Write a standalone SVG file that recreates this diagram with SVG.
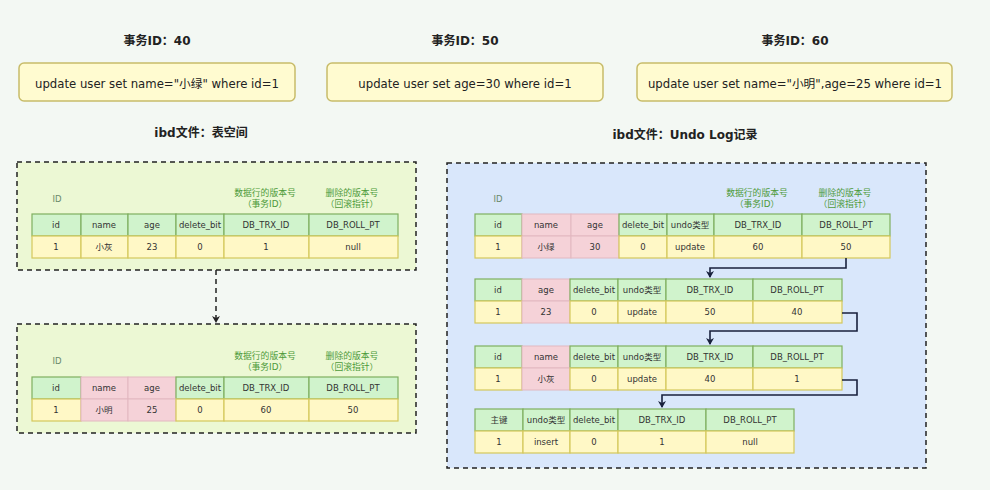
<svg xmlns="http://www.w3.org/2000/svg" width="990" height="490" viewBox="0 0 990 490">
<style>
.t{font-family:"DejaVu Sans","Noto Sans CJK SC",sans-serif;fill:#222;text-anchor:middle;dominant-baseline:central}
.title{font-size:12px;font-weight:bold}
.sql{font-size:11.7px}
.c{font-size:8.5px;fill:#333}
.lbl{font-size:8.8px;fill:#4d9a3a}
.idl{font-size:8.5px;fill:#6a8a6a}
.h{fill:#d0f3cc;stroke:#7fb05f;stroke-width:1.2}
.d{fill:#fff8c6;stroke:#d4c85c;stroke-width:1.2}
.p{fill:#f5d2d8;stroke:#e2b8c0;stroke-width:1}
.sqlbox{fill:#fffbd0;stroke:#c8bc6a;stroke-width:1.5}
.dash{stroke:#222;stroke-width:1.5;stroke-dasharray:5 4}
.conn{fill:none;stroke:#18213d;stroke-width:1.6}
</style>
<defs>
<marker id="ah" markerWidth="8" markerHeight="8" refX="6" refY="4" orient="auto" markerUnits="userSpaceOnUse">
<path d="M0,0 L7,4 L0,8 L2,4 Z" fill="#18213d"/>
</marker>
<marker id="ah2" markerWidth="8" markerHeight="8" refX="6" refY="4" orient="auto" markerUnits="userSpaceOnUse">
<path d="M0,0 L7,4 L0,8 L2,4 Z" fill="#222"/>
</marker>
</defs>
<rect width="990" height="490" fill="#f3f8f3"/>

<g id="tx40">
<text class="t title" x="157" y="41">事务ID：40</text>
<rect class="sqlbox" x="19" y="63" width="276" height="38" rx="5"/>
<text class="t sql" x="157" y="84">update user set name="小绿" where id=1</text>
</g>
<g id="tx50">
<text class="t title" x="465" y="41">事务ID：50</text>
<rect class="sqlbox" x="327" y="63" width="276" height="38" rx="5"/>
<text class="t sql" x="465" y="84">update user set age=30 where id=1</text>
</g>
<g id="tx60">
<text class="t title" x="795" y="41">事务ID：60</text>
<rect class="sqlbox" x="637" y="63" width="315" height="38" rx="5"/>
<text class="t sql" x="795" y="84">update user set name="小明",age=25 where id=1</text>
</g>

<text class="t title" x="201" y="133">ibd文件：表空间</text>
<text class="t title" x="685" y="135">ibd文件：Undo Log记录</text>

<g id="table-space-1">
<rect x="17" y="162" width="399" height="108" fill="#ecf8d4" class="dash"/>
<text class="t idl" x="57" y="199">ID</text>
<text class="t lbl" x="265" y="193">数据行的版本号</text>
<text class="t lbl" x="265" y="204">（事务ID）</text>
<text class="t lbl" x="352" y="193">删除的版本号</text>
<text class="t lbl" x="352" y="204">（回滚指针）</text>
<rect class="h" x="32" y="214" width="49" height="22"/><rect class="h" x="81" y="214" width="47" height="22"/><rect class="h" x="128" y="214" width="48" height="22"/><rect class="h" x="176" y="214" width="48" height="22"/><rect class="h" x="224" y="214" width="85" height="22"/><rect class="h" x="309" y="214" width="89" height="22"/>
<rect class="d" x="32" y="236" width="49" height="22"/><rect class="d" x="81" y="236" width="47" height="22"/><rect class="d" x="128" y="236" width="48" height="22"/><rect class="d" x="176" y="236" width="48" height="22"/><rect class="d" x="224" y="236" width="85" height="22"/><rect class="d" x="309" y="236" width="89" height="22"/>
<text class="t c" x="56" y="225">id</text><text class="t c" x="104" y="225">name</text><text class="t c" x="152" y="225">age</text><text class="t c" x="200" y="225">delete_bit</text><text class="t c" x="266" y="225">DB_TRX_ID</text><text class="t c" x="353" y="225">DB_ROLL_PT</text>
<text class="t c" x="56" y="247">1</text><text class="t c" x="104" y="247">小灰</text><text class="t c" x="152" y="247">23</text><text class="t c" x="200" y="247">0</text><text class="t c" x="266" y="247">1</text><text class="t c" x="353" y="247">null</text>
</g>

<g id="table-space-2">
<rect x="17" y="324" width="399" height="109" fill="#ecf8d4" class="dash"/>
<text class="t idl" x="57" y="361">ID</text>
<text class="t lbl" x="265" y="356">数据行的版本号</text>
<text class="t lbl" x="265" y="367">（事务ID）</text>
<text class="t lbl" x="352" y="356">删除的版本号</text>
<text class="t lbl" x="352" y="367">（回滚指针）</text>
<rect class="h" x="32" y="377" width="49" height="22"/><rect class="p" x="81" y="377" width="47" height="22"/><rect class="p" x="128" y="377" width="48" height="22"/><rect class="h" x="176" y="377" width="48" height="22"/><rect class="h" x="224" y="377" width="85" height="22"/><rect class="h" x="309" y="377" width="89" height="22"/>
<rect class="d" x="32" y="399" width="49" height="22"/><rect class="p" x="81" y="399" width="47" height="22"/><rect class="p" x="128" y="399" width="48" height="22"/><rect class="d" x="176" y="399" width="48" height="22"/><rect class="d" x="224" y="399" width="85" height="22"/><rect class="d" x="309" y="399" width="89" height="22"/>
<text class="t c" x="56" y="388">id</text><text class="t c" x="104" y="388">name</text><text class="t c" x="152" y="388">age</text><text class="t c" x="200" y="388">delete_bit</text><text class="t c" x="266" y="388">DB_TRX_ID</text><text class="t c" x="353" y="388">DB_ROLL_PT</text>
<text class="t c" x="56" y="410">1</text><text class="t c" x="104" y="410">小明</text><text class="t c" x="152" y="410">25</text><text class="t c" x="200" y="410">0</text><text class="t c" x="266" y="410">60</text><text class="t c" x="353" y="410">50</text>
</g>

<g id="undo-log">
<rect x="447" y="163" width="479" height="305" fill="#d9e7fb" class="dash"/>
<text class="t idl" x="498" y="199">ID</text>
<text class="t lbl" x="757" y="193">数据行的版本号</text>
<text class="t lbl" x="757" y="204">（事务ID）</text>
<text class="t lbl" x="845" y="193">删除的版本号</text>
<text class="t lbl" x="845" y="204">（回滚指针）</text>
</g>

<g id="undo-1">
<rect class="h" x="475" y="214" width="47" height="22"/><rect class="p" x="522" y="214" width="49" height="22"/><rect class="p" x="571" y="214" width="48" height="22"/><rect class="h" x="619" y="214" width="48" height="22"/><rect class="h" x="667" y="214" width="47" height="22"/><rect class="h" x="714" y="214" width="88" height="22"/><rect class="h" x="802" y="214" width="88" height="22"/>
<rect class="d" x="475" y="236" width="47" height="22"/><rect class="p" x="522" y="236" width="49" height="22"/><rect class="p" x="571" y="236" width="48" height="22"/><rect class="d" x="619" y="236" width="48" height="22"/><rect class="d" x="667" y="236" width="47" height="22"/><rect class="d" x="714" y="236" width="88" height="22"/><rect class="d" x="802" y="236" width="88" height="22"/>
<text class="t c" x="498" y="225">id</text><text class="t c" x="546" y="225">name</text><text class="t c" x="595" y="225">age</text><text class="t c" x="643" y="225">delete_bit</text><text class="t c" x="690" y="225">undo类型</text><text class="t c" x="758" y="225">DB_TRX_ID</text><text class="t c" x="846" y="225">DB_ROLL_PT</text>
<text class="t c" x="498" y="247">1</text><text class="t c" x="546" y="247">小绿</text><text class="t c" x="595" y="247">30</text><text class="t c" x="643" y="247">0</text><text class="t c" x="690" y="247">update</text><text class="t c" x="758" y="247">60</text><text class="t c" x="846" y="247">50</text>
</g>

<g id="undo-2">
<rect class="h" x="475" y="279" width="47" height="22"/><rect class="p" x="522" y="279" width="48" height="22"/><rect class="h" x="570" y="279" width="48" height="22"/><rect class="h" x="618" y="279" width="48" height="22"/><rect class="h" x="666" y="279" width="87" height="22"/><rect class="h" x="753" y="279" width="89" height="22"/>
<rect class="d" x="475" y="301" width="47" height="22"/><rect class="p" x="522" y="301" width="48" height="22"/><rect class="d" x="570" y="301" width="48" height="22"/><rect class="d" x="618" y="301" width="48" height="22"/><rect class="d" x="666" y="301" width="87" height="22"/><rect class="d" x="753" y="301" width="89" height="22"/>
<text class="t c" x="498" y="290">id</text><text class="t c" x="546" y="290">age</text><text class="t c" x="594" y="290">delete_bit</text><text class="t c" x="642" y="290">undo类型</text><text class="t c" x="710" y="290">DB_TRX_ID</text><text class="t c" x="797" y="290">DB_ROLL_PT</text>
<text class="t c" x="498" y="312">1</text><text class="t c" x="546" y="312">23</text><text class="t c" x="594" y="312">0</text><text class="t c" x="642" y="312">update</text><text class="t c" x="710" y="312">50</text><text class="t c" x="797" y="312">40</text>
</g>

<g id="undo-3">
<rect class="h" x="475" y="346" width="47" height="22"/><rect class="p" x="522" y="346" width="48" height="22"/><rect class="h" x="570" y="346" width="48" height="22"/><rect class="h" x="618" y="346" width="48" height="22"/><rect class="h" x="666" y="346" width="87" height="22"/><rect class="h" x="753" y="346" width="89" height="22"/>
<rect class="d" x="475" y="368" width="47" height="22"/><rect class="p" x="522" y="368" width="48" height="22"/><rect class="d" x="570" y="368" width="48" height="22"/><rect class="d" x="618" y="368" width="48" height="22"/><rect class="d" x="666" y="368" width="87" height="22"/><rect class="d" x="753" y="368" width="89" height="22"/>
<text class="t c" x="498" y="357">id</text><text class="t c" x="546" y="357">name</text><text class="t c" x="594" y="357">delete_bit</text><text class="t c" x="642" y="357">undo类型</text><text class="t c" x="710" y="357">DB_TRX_ID</text><text class="t c" x="797" y="357">DB_ROLL_PT</text>
<text class="t c" x="498" y="379">1</text><text class="t c" x="546" y="379">小灰</text><text class="t c" x="594" y="379">0</text><text class="t c" x="642" y="379">update</text><text class="t c" x="710" y="379">40</text><text class="t c" x="797" y="379">1</text>
</g>

<g id="undo-4">
<rect class="h" x="475" y="409" width="48" height="22"/><rect class="h" x="523" y="409" width="47" height="22"/><rect class="h" x="570" y="409" width="48" height="22"/><rect class="h" x="618" y="409" width="88" height="22"/><rect class="h" x="706" y="409" width="88" height="22"/>
<rect class="d" x="475" y="431" width="48" height="22"/><rect class="d" x="523" y="431" width="47" height="22"/><rect class="d" x="570" y="431" width="48" height="22"/><rect class="d" x="618" y="431" width="88" height="22"/><rect class="d" x="706" y="431" width="88" height="22"/>
<text class="t c" x="499" y="420">主键</text><text class="t c" x="546" y="420">undo类型</text><text class="t c" x="594" y="420">delete_bit</text><text class="t c" x="662" y="420">DB_TRX_ID</text><text class="t c" x="750" y="420">DB_ROLL_PT</text>
<text class="t c" x="499" y="442">1</text><text class="t c" x="546" y="442">insert</text><text class="t c" x="594" y="442">0</text><text class="t c" x="662" y="442">1</text><text class="t c" x="750" y="442">null</text>
</g>

<g id="connectors">
<path d="M216,270 V322" class="dash" fill="none" marker-end="url(#ah2)"/>
<path d="M846,258 V268 H710 V277" class="conn" marker-end="url(#ah)"/>
<path d="M842,313 H857 V331 H710 V344" class="conn" marker-end="url(#ah)"/>
<path d="M842,380 H857 V395 H662 V407" class="conn" marker-end="url(#ah)"/>
</g>
</svg>
